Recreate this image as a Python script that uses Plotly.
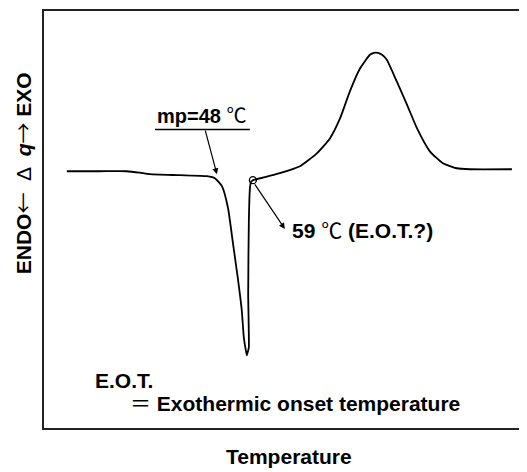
"""
DSC thermogram: melting endotherm followed by exothermic decomposition.
"""

import plotly.graph_objects as go

# Temperature (deg C) and heat flow (arbitrary units, + = exo)
temp = [4.0, 13.8, 21.8, 25.7, 28.7, 37.6, 45.6, 48.0, 50.1, 51.9, 53.4, 54.8,
        56.0, 56.6, 57.2, 57.5, 57.9, 58.1, 57.9, 58.1, 58.4, 58.7, 59.3,
        62.9, 67.3, 73.3, 78.3, 82.2, 85.2, 88.1, 91.1, 94.1, 95.3, 96.5, 97.7,
        99.1, 102.1, 105.1, 108.1, 111.9, 115.8, 119.9, 123.8, 136.3]
heat_flow = [0.0, 0.0, 0.0, -0.15, -0.3, -0.4, -0.5, -0.7, -1.5, -3.7, -7.3, -10.7,
             -14.0, -16.7, -18.0, -18.5, -18.0, -17.7, -12.3, -5.0, -1.8, -1.1, -0.9,
             -0.6, -0.2, 0.5, 1.8, 3.3, 5.3, 8.0, 10.3, 11.7, 11.9, 11.9, 11.7,
             11.2, 9.0, 6.7, 4.3, 2.0, 0.8, 0.3, 0.2, 0.2]

# marked points
mp_temp = [48.6]
mp_flow = [-0.3]
eot_temp = [59.3]
eot_flow = [-0.9]

FONT = 'Liberation Sans, Arial, Noto Sans CJK JP'
CJK = 'Noto Sans CJK JP'

fig = go.Figure()

fig.add_trace(go.Scatter(
    x=temp, y=heat_flow, mode='lines',
    line=dict(color='black', width=1.8, shape='spline', smoothing=0.5),
    hoverinfo='skip'
))

fig.add_trace(go.Scatter(
    x=eot_temp, y=eot_flow, mode='markers',
    marker=dict(symbol='circle-open', size=7, color='black', line=dict(width=1.3)),
    hoverinfo='skip'
))

# mp arrow + label
fig.add_annotation(x=mp_temp[0], y=mp_flow[0], ax=-12, ay=-45,
                   showarrow=True, arrowhead=2, arrowsize=1, arrowwidth=1.2,
                   arrowcolor='black', text='')
fig.add_annotation(x=44.1, y=5.5, yanchor='middle',
                   text='<b>mp=48</b> \u2103', showarrow=False,
                   font=dict(size=20, color='black'))
fig.add_shape(type='line', x0=30.2, x1=58.4, y0=4.2, y1=4.2,
              line=dict(color='black', width=1.5))

# E.O.T. arrow + label
fig.add_annotation(x=68.8, y=-5.8, ax=-31, ay=-46,
                   showarrow=True, arrowhead=2, arrowsize=1, arrowwidth=1.2,
                   arrowcolor='black', text='')
fig.add_annotation(x=70.3, y=-6.0, xanchor='left', yanchor='middle',
                   text='<b>59</b> \u2103 <b>(E.O.T.?)</b>', showarrow=False,
                   font=dict(size=21, color='black'))

fig.add_annotation(x=11.7, y=-21.0, xanchor='left', yanchor='middle',
                   text='<b>E.O.T.</b>',
                   showarrow=False, font=dict(size=21, color='black'))
fig.add_annotation(x=22.1, y=-23.3, xanchor='left', yanchor='middle',
                   text='\uff1d <b>Exothermic onset temperature</b>',
                   showarrow=False, font=dict(size=21, color='black'))

# axis titles
fig.add_annotation(xref='paper', x=-0.046, y=-0.2, xanchor='center', yanchor='middle',
                   textangle=-90,
                   text=('<b>ENDO</b><span style="font-family:' + CJK + '">\u2190</span>'
                         '  \u0394  <b><i>q</i></b><span style="font-family:' + CJK + '">\u2192</span>'
                         ' <b>EXO</b>'),
                   showarrow=False, font=dict(size=21, color='black'))
fig.add_annotation(xref='paper', yref='paper', x=0.513, y=-0.069,
                   xanchor='center', yanchor='middle',
                   text='<b>Temperature</b>', showarrow=False,
                   font=dict(size=21, color='black'))

fig.update_xaxes(range=[-2.8, 139.3], showticklabels=False, ticks='',
                 showgrid=False, zeroline=False, showline=True, mirror=True,
                 linecolor='#222', linewidth=1.5)
fig.update_yaxes(range=[-25.8, 16.1], showticklabels=False, ticks='',
                 showgrid=False, zeroline=False, showline=True, mirror=True,
                 linecolor='#222', linewidth=1.5)

# page body adds an 8px offset, so the figure is slightly smaller
fig.update_layout(
    width=519, height=464,
    margin=dict(l=36, r=5, t=1, b=44),
    showlegend=False,
    paper_bgcolor='white',
    plot_bgcolor='white',
    font=dict(family=FONT, color='black')
)

fig.write_html("out.html")
